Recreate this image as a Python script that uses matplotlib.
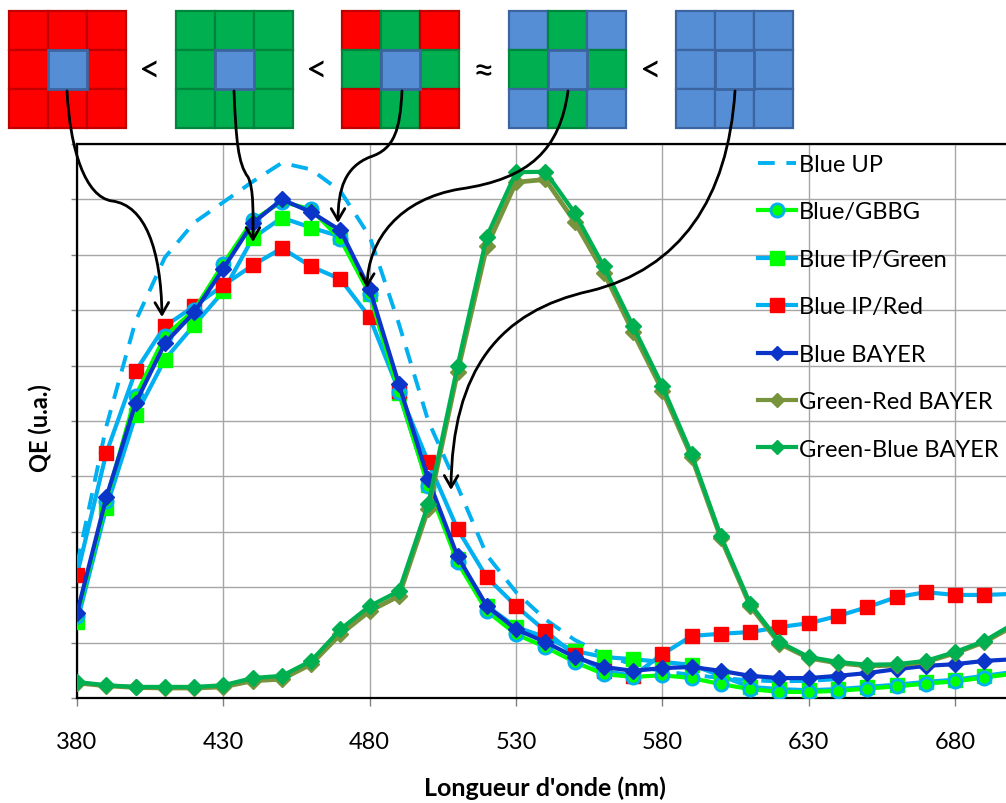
import numpy as np
import matplotlib
matplotlib.use("Agg")
import matplotlib.pyplot as plt
from matplotlib.lines import Line2D
from matplotlib.patches import Rectangle, FancyArrowPatch
from matplotlib.path import Path

plt.rcParams['font.family'] = ['Lato', 'DejaVu Sans']

# Data (QE in arbitrary units)
nan = np.nan
wavelength = list(range(380, 701, 10))

blue_up = [2.40, 4.90, 6.80, 7.95, 8.58, 8.95, 9.32, 9.66, 9.54, 9.15, 8.33, 6.75, 5.00,
           3.82, 2.58, 1.91, 1.42, 1.05, 0.78, 0.60, 0.48, 0.42, 0.36, 0.32, 0.30, 0.31,
           0.34, nan, nan, nan, nan, nan, nan]
blue_gbbg = [1.48, 3.55, 5.45, 6.53, 7.00, 7.84, 8.62, 8.96, 8.82, 8.28, 7.29, 5.52, 3.82,
             2.45, 1.57, 1.15, 0.92, 0.65, 0.43, 0.38, 0.41, 0.36, 0.25, 0.16, 0.11, 0.11,
             0.13, 0.17, 0.21, 0.26, 0.30, 0.37, 0.44]
blue_ip_green = [1.37, 3.43, 5.10, 6.11, 6.73, 7.34, 8.30, 8.67, 8.49, 8.33, 7.29, 5.50, 3.85,
                 2.51, 1.66, 1.28, 1.10, 0.85, 0.74, 0.70, 0.65, 0.60, 0.40, 0.20, 0.16, 0.14,
                 0.16, 0.20, 0.24, 0.29, 0.33, 0.40, 0.47]
blue_ip_red = [2.22, 4.42, 5.90, 6.71, 7.07, 7.45, 7.81, 8.12, 7.79, 7.56, 6.87, 5.54, 4.26,
               3.05, 2.18, 1.66, 1.21, 0.78, 0.49, 0.40, 0.79, 1.12, 1.16, 1.19, 1.28, 1.35,
               1.48, 1.64, 1.82, 1.91, 1.86, 1.86, 1.88]
blue_bayer = [1.53, 3.62, 5.32, 6.40, 6.96, 7.75, 8.57, 9.00, 8.77, 8.44, 7.38, 5.66, 3.95,
              2.56, 1.66, 1.24, 1.01, 0.74, 0.56, 0.49, 0.54, 0.56, 0.49, 0.40, 0.36, 0.36,
              0.40, 0.45, 0.52, 0.58, 0.61, 0.67, 0.70]
green_red_bayer = [0.27, 0.22, 0.19, 0.18, 0.18, 0.20, 0.31, 0.34, 0.61, 1.15, 1.57, 1.84, 3.41,
                   5.88, 8.15, 9.31, 9.36, 8.60, 7.68, 6.60, 5.55, 4.35, 2.88, 1.66, 0.98, 0.72,
                   0.63, 0.58, 0.59, 0.65, 0.81, 1.01, 1.30]
green_blue_bayer = [0.29, 0.23, 0.20, 0.20, 0.20, 0.23, 0.36, 0.40, 0.67, 1.24, 1.66, 1.93, 3.50,
                    5.99, 8.33, 9.49, 9.50, 8.76, 7.79, 6.71, 5.63, 4.40, 2.92, 1.70, 1.01, 0.74,
                    0.65, 0.60, 0.61, 0.67, 0.83, 1.03, 1.34]

xticks = [380, 430, 480, 530, 580, 630, 680]

# colours
CYAN = '#00B0F0'
LIME = '#00FF00'
RED = '#FF0000'
DBLUE = '#0A35C8'
OLIVE = '#77933C'
GREEN = '#00B050'

W, H = 1006, 804
fig = plt.figure(figsize=(W / 100, H / 100), dpi=100)

# main axes: left edge at 380 nm, axes runs past the right border of the picture
x_max = 730
px_per_nm = 2.927
left_px, top_px, bottom_px = 77, 145, 699
ax = fig.add_axes([left_px / W, 1 - bottom_px / H,
                   (x_max - 380) * px_per_nm / W, (bottom_px - top_px) / H])

lw = 3.0
ax.plot(wavelength, blue_up, color=CYAN, lw=2.8, dashes=(4.3, 3.0), zorder=3)
ax.plot(wavelength, blue_ip_green, color=CYAN, lw=lw, marker='s', ms=9.5,
        mfc=LIME, mec=LIME, zorder=4)
ax.plot(wavelength, blue_ip_red, color=CYAN, lw=lw, marker='s', ms=9.5,
        mfc=RED, mec=RED, zorder=5)
ax.plot(wavelength, blue_gbbg, color=LIME, lw=lw, marker='o', ms=9.5,
        mfc=LIME, mec=CYAN, mew=2, zorder=6)
ax.plot(wavelength, blue_bayer, color=DBLUE, lw=lw, marker='D', ms=8,
        mfc=DBLUE, mec=DBLUE, zorder=7)
ax.plot(wavelength, green_red_bayer, color=OLIVE, lw=3.4, marker='D', ms=8,
        mfc=OLIVE, mec=OLIVE, zorder=8)
ax.plot(wavelength, green_blue_bayer, color=GREEN, lw=lw, marker='D', ms=8,
        mfc=GREEN, mec=GREEN, zorder=9)

ax.set_xlim(380, x_max)
ax.set_ylim(0, 10)
ax.set_xticks(xticks)
ax.set_yticks(range(0, 11))
ax.set_yticklabels([])
ax.tick_params(axis='x', direction='out', length=6, width=1, color='#808080',
               pad=18, labelsize=17)
ax.tick_params(axis='y', direction='out', length=4, width=1, color='#808080')
ax.grid(True, color='#A6A6A6', lw=1)
ax.set_axisbelow(True)
for s in ax.spines.values():
    s.set_color('black')
    s.set_linewidth(1.6)

fig.text(545 / W, 1 - 788 / H, "Longueur d'onde (nm)", ha='center', va='center',
         fontsize=18, fontweight='bold')
fig.text(40 / W, 1 - 428 / H, "QE (u.a.)", ha='center', va='center',
         fontsize=17, fontweight='bold', rotation=90)

# legend
handles = [
    Line2D([], [], color=CYAN, lw=2.8, dashes=(4.3, 3.0)),
    Line2D([], [], color=LIME, lw=lw, marker='o', ms=9.5, mfc=LIME, mec=CYAN, mew=2),
    Line2D([], [], color=CYAN, lw=lw, marker='s', ms=9.5, mfc=LIME, mec=LIME),
    Line2D([], [], color=CYAN, lw=lw, marker='s', ms=9.5, mfc=RED, mec=RED),
    Line2D([], [], color=DBLUE, lw=lw, marker='D', ms=7, mfc=DBLUE, mec=DBLUE),
    Line2D([], [], color=OLIVE, lw=lw, marker='D', ms=7, mfc=OLIVE, mec=OLIVE),
    Line2D([], [], color=GREEN, lw=lw, marker='D', ms=7, mfc=GREEN, mec=GREEN),
]
labels = ['Blue UP', 'Blue/GBBG', 'Blue IP/Green', 'Blue IP/Red', 'Blue BAYER',
          'Green-Red BAYER', 'Green-Blue BAYER']
leg = fig.legend(handles, labels, loc='upper left', bbox_to_anchor=(758 / W, 1 - 155 / H),
                 frameon=False, fontsize=17, handlelength=1.6, handletextpad=0.15,
                 labelspacing=1.12, borderpad=0, borderaxespad=0)
leg.set_zorder(20)

# overlay for the pixel patterns and arrows
ov = fig.add_axes([0, 0, 1, 1], zorder=10)
ov.set_xlim(0, W)
ov.set_ylim(H, 0)
ov.axis('off')
ov.patch.set_alpha(0)

R, G, B = '#FF0000', '#00B050', '#558ED5'
edge = {R: '#C00000', G: '#00863C', B: '#3C64A0'}
patterns = [
    [[R, R, R], [R, B, R], [R, R, R]],
    [[G, G, G], [G, B, G], [G, G, G]],
    [[R, G, R], [G, B, G], [R, G, R]],
    [[B, G, B], [G, B, G], [B, G, B]],
    [[B, B, B], [B, B, B], [B, B, B]],
]
grid_x = [9, 176, 342, 509, 676]
cell = 39
gy = 12
for x0, pat in zip(grid_x, patterns):
    for r in range(3):
        for c in range(3):
            col = pat[r][c]
            center = (r == 1 and c == 1)
            ov.add_patch(Rectangle((x0 + c * cell, gy + r * cell), cell, cell,
                                   facecolor=col, edgecolor='#3C64A0' if center else edge[col],
                                   lw=2.0 if center else 1.6, zorder=2 if center else 1))

for sx, sym in zip([150, 317, 484, 651], ['<', '<', '\u2248', '<']):
    ov.text(sx, 72, sym, ha='center', va='center', fontsize=27, color='black')

# arrows: two cubic bezier segments each
arrows = [
    [(67, 92), (70, 150), (85, 198), (112, 202), (145, 206), (161, 250), (162, 318)],
    [(234, 92), (236, 140), (238, 165), (248, 178), (254, 190), (253, 215), (253, 243)],
    [(402, 92), (400, 130), (395, 150), (370, 158), (345, 168), (338, 190), (338, 224)],
    [(568, 92), (560, 150), (530, 180), (460, 190), (400, 200), (368, 240), (367, 289)],
    [(735, 92), (728, 200), (680, 270), (590, 292), (500, 312), (452, 370), (451, 491)],
]
codes = [Path.MOVETO] + [Path.CURVE4] * 6
for pts in arrows:
    arr = FancyArrowPatch(path=Path(pts, codes), arrowstyle='->,head_length=0.6,head_width=0.35',
                          mutation_scale=14, lw=2, color='black', zorder=5)
    ov.add_patch(arr)

fig.savefig('out.png', dpi=100)
